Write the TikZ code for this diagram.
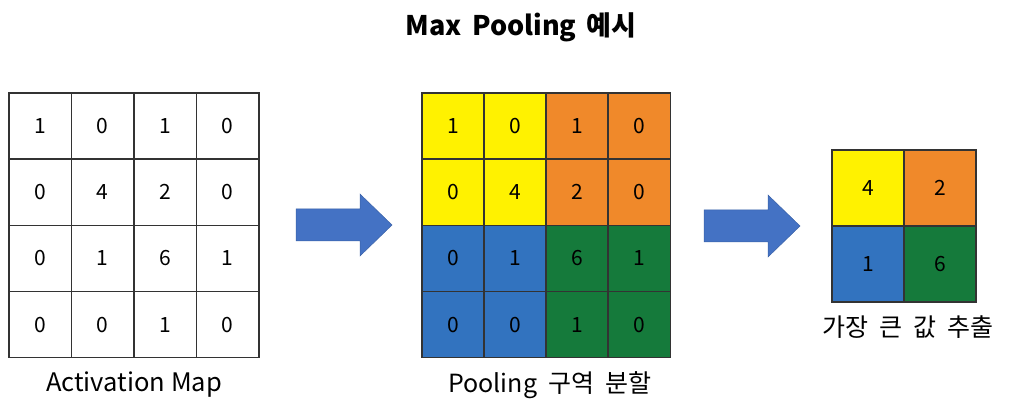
\documentclass[tikz,border=0pt]{standalone}
\usepackage{fontspec}
\setmainfont{Noto Sans CJK KR}
\usetikzlibrary{positioning}
\definecolor{poolyellow}{HTML}{FFF200}
\definecolor{poolorange}{HTML}{F0892A}
\definecolor{poolblue}{HTML}{3273BF}
\definecolor{poolgreen}{HTML}{157A3B}
\definecolor{arrowblue}{HTML}{4472C4}
\definecolor{gridline}{HTML}{333333}
\newcommand\widegap[1]{\spaceskip=#1em\relax}
\tikzset{%
	cell/.style      = {draw=gridline, line width=1.3pt, inner sep=0pt, minimum width=62.3pt, minimum height=66pt, font=\fontsize{21}{21}\selectfont}, % one value
	bigcell/.style   = {cell, minimum width=72pt, minimum height=76pt},
	caption/.style   = {font=\fontsize{25.5}{25.5}\selectfont},
	kcaption/.style  = {font={\fontsize{25}{25}\selectfont\widegap{0.45}}},
	title/.style     = {font={\fontsize{27}{27}\selectfont\bfseries\widegap{0.38}}},
	blockarrow/.style= {fill=arrowblue, draw=arrowblue!85!black, line width=0.5pt},
}

\begin{document}
\begin{tikzpicture}[x=1pt,y=-1pt]
	\useasboundingbox (0,0) rectangle (1012,414);
	\node[title] (head) at (521,27) {Max Pooling 예시};

	% activation map
	\foreach \v [count=\k from 0] in {1,0,1,0, 0,4,2,0, 0,1,6,1, 0,0,1,0} {
		\pgfmathtruncatemacro\r{\k/4}
		\pgfmathtruncatemacro\c{\k-4*\r}
		\node[cell] (a\r\c) at ({9+62.5*(\c+0.5)},{93+66.2*(\r+0.5)}) {\v};
	}
	\node[caption] (acap) at (134,385) {Activation Map};

	% pooling regions
	\foreach \v/\f [count=\k from 0] in {1/poolyellow,0/poolyellow,1/poolorange,0/poolorange,
			0/poolyellow,4/poolyellow,2/poolorange,0/poolorange,
			0/poolblue,1/poolblue,6/poolgreen,1/poolgreen,
			0/poolblue,0/poolblue,1/poolgreen,0/poolgreen} {
		\pgfmathtruncatemacro\r{\k/4}
		\pgfmathtruncatemacro\c{\k-4*\r}
		\node[cell,fill=\f] (p\r\c) at ({422+62*(\c+0.5)},{93+66.2*(\r+0.5)}) {\v};
	}
	\node[kcaption] (pcap) at (550,385) {Pooling 구역 분할};

	% max values
	\foreach \v/\f [count=\k from 0] in {4/poolyellow,2/poolorange,1/poolblue,6/poolgreen} {
		\pgfmathtruncatemacro\r{\k/2}
		\pgfmathtruncatemacro\c{\k-2*\r}
		\node[bigcell,fill=\f] (m\r\c) at ({832+72*(\c+0.5)},{150+76*(\r+0.5)}) {\v};
	}
	\node[kcaption] (mcap) at (908,327) {가장 큰 값 추출};

	% arrows
	\coordinate (arr1) at (296,225);
	\coordinate (arr2) at (704,226);
	\foreach \s in {arr1,arr2}
		\draw[blockarrow] (\s) ++(0,-16) -- ++(64,0) -- ++(0,-15) -- ++(32,31) -- ++(-32,31) -- ++(0,-15) -- ++(-64,0) -- cycle;
\end{tikzpicture}
\end{document}
